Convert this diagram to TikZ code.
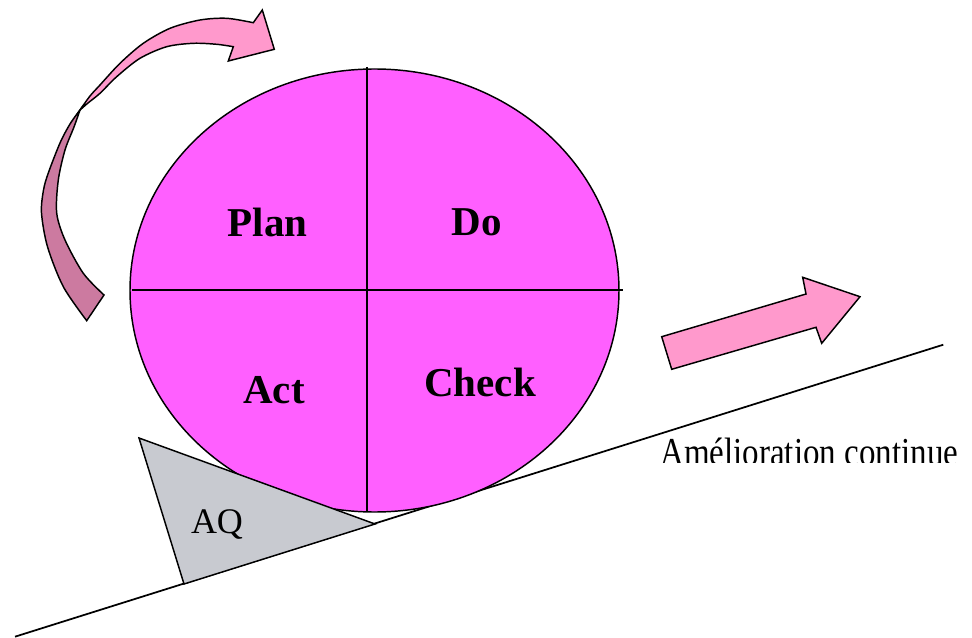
\documentclass[tikz,border=0pt]{standalone}
\usepackage{fontspec}
\setmainfont{Liberation Serif}
\definecolor{circfill}{RGB}{255,95,255}
\definecolor{arrowpink}{RGB}{255,153,204}
\definecolor{arrowdark}{RGB}{204,122,160}
\definecolor{wedgegrey}{RGB}{200,202,208}
\tikzset{
  outline/.style={draw=black, line width=1.1pt, line join=miter},
  phase/.style={font=\fontsize{30.75}{36}\selectfont\bfseries, anchor=base, inner sep=0pt},
  plainlabel/.style={font=\fontsize{27}{32}\selectfont, anchor=base, inner sep=0pt},
}
\begin{document}
\begin{tikzpicture}[x=0.75pt,y=-0.75pt]
\useasboundingbox (0,0) rectangle (972,638);
% slope line
\coordinate (slopeA) at (15,636.7);
\coordinate (slopeB) at (943.3,344.7);
\draw[line width=1.3pt] (slopeA) -- (slopeB);
% ellipse
\filldraw[outline, fill=circfill] (374.5,290.5) ellipse [x radius=244.5, y radius=221.5];
\coordinate (vtop) at (367,67);
\coordinate (vbot) at (367,512);
\coordinate (hleft) at (132,290);
\coordinate (hright) at (623,290);
\draw[line width=1.1pt] (vtop) -- (vbot);
\draw[line width=1.1pt] (hleft) -- (hright);
% wedge
\filldraw[outline, fill=wedgegrey] (139,438) -- (375,524) -- (184,584) -- cycle;
% curved arrow, back part
\filldraw[outline, fill=arrowdark]
  plot[smooth, tension=0.5] coordinates {(86.7,320.7) (63.3,286.7) (47.5,246.7) (41.5,213) (43.5,190) (48.3,173) (60,143) (70,124) (80,110)}
  -- plot[smooth, tension=0.5] coordinates {(80,110) (74,127) (65,150) (58.3,180) (56.7,213) (65,240) (83.3,273.3) (104,295)}
  -- cycle;
% curved arrow, front part
\filldraw[outline, fill=arrowpink]
  plot[smooth, tension=0.5] coordinates {(80,110) (90,96) (100,85) (120,63.3) (143.3,43.3) (170,28.3) (200,20) (226.7,18.3) (253.3,22.7)}
  -- (262.3,10) -- (274.3,49.3) -- (228.3,61) -- (233.3,46.7)
  -- plot[smooth, tension=0.5] coordinates {(233.3,46.7) (216.7,44.3) (193.3,43.3) (166.7,46.7) (140,58.3) (116.7,76.7) (100,93.3) (88,103) (80,110)}
  -- cycle;
% straight arrow
\filldraw[outline, fill=arrowpink] (661.7,336.7) -- (806,294) -- (802.7,277.3) -- (860,296.7) -- (821.7,343.3) -- (816,327.3) -- (671.7,369.3) -- cycle;
% labels
\node[phase] (plan) at (267.5,237) {Plan};
\node[phase] (do) at (477,236) {Do};
\node[phase] (act) at (274,403) {Act};
\node[phase] (check) at (480,397) {Check};
\node[plainlabel] (aq) at (217,533) {AQ};
\begin{scope}
\clip (600,400) rectangle (972,462);
\node[anchor=base west, inner sep=0pt, font=\fontsize{24.75}{30}\selectfont] (amel) at (660,465) {\scalebox{1}[1.2]{Amélioration continue}};
\end{scope}
\end{tikzpicture}
\end{document}
